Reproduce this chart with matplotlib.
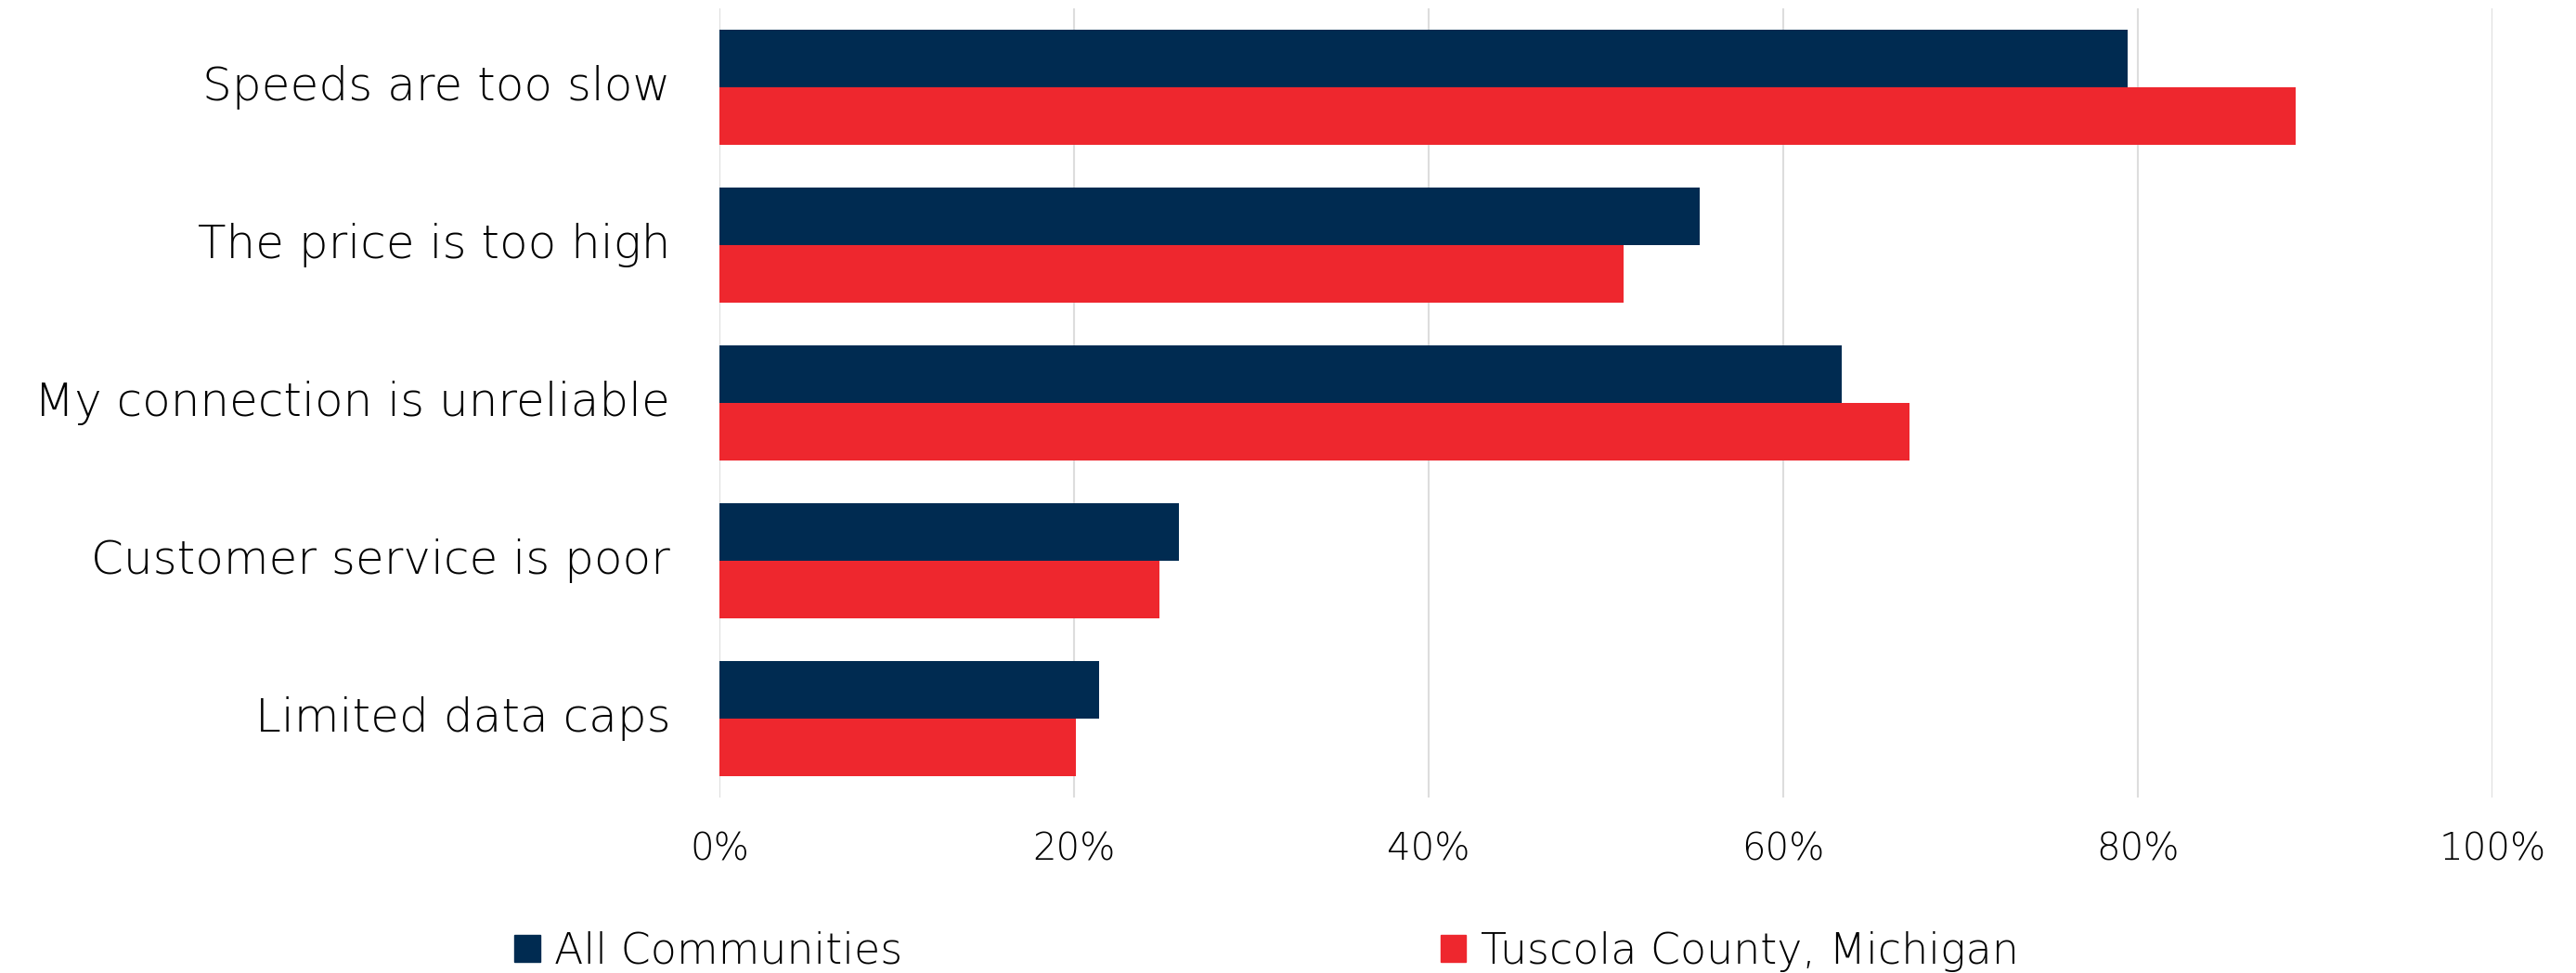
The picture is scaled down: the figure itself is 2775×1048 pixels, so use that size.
import numpy as np
import matplotlib.pyplot as plt
from matplotlib.patches import Patch

categories = ['Speeds are too slow', 'The price is too high', 'My connection is unreliable',
              'Customer service is poor', 'Limited data caps']
all_communities = [79.4, 55.3, 63.3, 25.9, 21.4]
tuscola = [88.9, 51.0, 67.1, 24.8, 20.1]
series_names = ['All Communities', 'Tuscola County, Michigan']
x_ticks = [0, 20, 40, 60, 80, 100]
x_labels = ['0%', '20%', '40%', '60%', '80%', '100%']

navy = '#002B51'
red = '#EE272E'

plt.rcParams['font.family'] = ['DejaVu Sans']
plt.rcParams['font.weight'] = 'light'

fig = plt.figure(figsize=(27.75, 10.48), dpi=100)
ax = fig.add_axes([775 / 2775, 1 - 859 / 1048, 1910 / 2775, 850 / 1048])

y = np.arange(len(categories))
h = 0.365
ax.barh(y - h / 2, all_communities, height=h, color=navy, zorder=3)
ax.barh(y + h / 2, tuscola, height=h, color=red, zorder=3)

ax.set_xlim(0, 100)
ax.set_ylim(len(categories) - 0.5, -0.5)
ax.set_xticks(x_ticks)
ax.set_xticklabels(x_labels)
ax.set_yticks(y)
ax.set_yticklabels(categories)
ax.tick_params(axis='both', length=0, colors='black')
ax.tick_params(axis='y', pad=38, labelsize=36)
ax.tick_params(axis='x', pad=26, labelsize=29)
ax.grid(axis='x', color='#dddddd', linewidth=1.5, zorder=0)
for s in ax.spines.values():
    s.set_visible(False)
for lab in ax.get_yticklabels():
    lab.set_y(lab.get_position()[1])
    lab.set_verticalalignment('center')

# two separate legend entries, spread out like the original
for name, col, xpos in [(series_names[0], navy, 554), (series_names[1], red, 1552)]:
    fig.legend(handles=[Patch(color=col, label=name)], loc='center left',
               bbox_to_anchor=(xpos / 2775, 1 - 1025 / 1048), frameon=False,
               fontsize=33, handlelength=0.6, handleheight=0.6,
               handletextpad=0.34, borderpad=0, borderaxespad=0)

fig.savefig('out.png', dpi=100)
